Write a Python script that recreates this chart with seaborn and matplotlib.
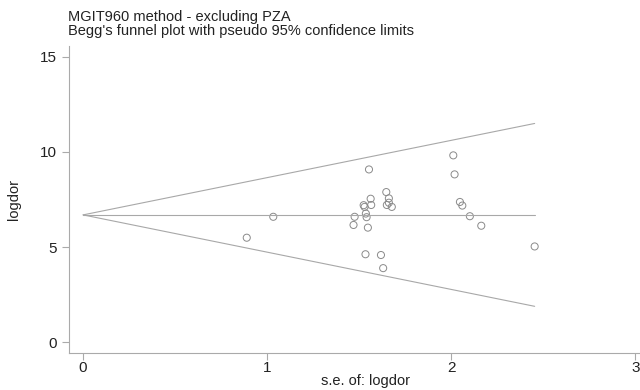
import numpy as np
import pandas as pd
import matplotlib
matplotlib.use("Agg")
import matplotlib.pyplot as plt
import seaborn as sns

# study-level standard errors and log diagnostic odds ratios
se_logdor = [0.889, 1.033, 1.469, 1.475, 1.524, 1.529, 1.534, 1.536, 1.540,
             1.547, 1.553, 1.562, 1.565, 1.618, 1.630, 1.647, 1.650, 1.661,
             1.661, 1.677, 2.011, 2.018, 2.047, 2.060, 2.101, 2.163, 2.453]
logdor = [5.49, 6.59, 6.16, 6.59, 7.20, 7.11, 4.62, 6.76, 6.57,
          6.02, 9.08, 7.54, 7.21, 4.58, 3.89, 7.89, 7.21, 7.56,
          7.33, 7.11, 9.82, 8.82, 7.37, 7.18, 6.62, 6.12, 5.03]
pooled = 6.69
x_ticks = [0, 1, 2, 3]
y_ticks = [0, 5, 10, 15]

df = pd.DataFrame({"se": se_logdor, "logdor": logdor})

sns.set_style("ticks")
plt.rcParams["font.family"] = ["Liberation Sans", "DejaVu Sans"]

grey = "#a8a8a8"
fig = plt.figure(figsize=(6.4, 3.9), dpi=100)
ax = fig.add_axes([0.108, 0.095, 0.925, 0.787])

# pseudo 95% confidence limits
se_line = np.array([0, df["se"].max()])
ax.plot(se_line, pooled + 1.96 * se_line, color=grey, lw=0.8)
ax.plot(se_line, pooled - 1.96 * se_line, color=grey, lw=0.8)
ax.plot(se_line, [pooled, pooled], color=grey, lw=0.8)

sns.scatterplot(data=df, x="se", y="logdor", ax=ax, marker="o", s=26,
                facecolor="none", edgecolor="#8a8a8a", linewidth=0.7)

ax.set_xlim(-0.076, 3.14)
ax.set_ylim(-0.57, 15.57)
ax.set_xticks(x_ticks)
ax.set_yticks(y_ticks)
ax.tick_params(colors="#aaaaaa", labelcolor="#222222", labelsize=11,
               length=5, width=0.8)
ax.tick_params(axis="x", pad=1)
for side in ["top", "right"]:
    ax.spines[side].set_visible(False)
for side in ["left", "bottom"]:
    ax.spines[side].set_color("#aaaaaa")
    ax.spines[side].set_linewidth(0.8)

ax.set_xlabel("s.e. of: logdor", fontsize=10.5, color="#222222", labelpad=-1)
ax.set_ylabel("logdor", fontsize=10.5, color="#222222", labelpad=14)

fig.text(0.107, 0.975, "MGIT960 method - excluding PZA\n"
         "Begg's funnel plot with pseudo 95% confidence limits",
         ha="left", va="top", fontsize=10.5, color="#222222", linespacing=1.0)

fig.savefig("out.png", dpi=100)
